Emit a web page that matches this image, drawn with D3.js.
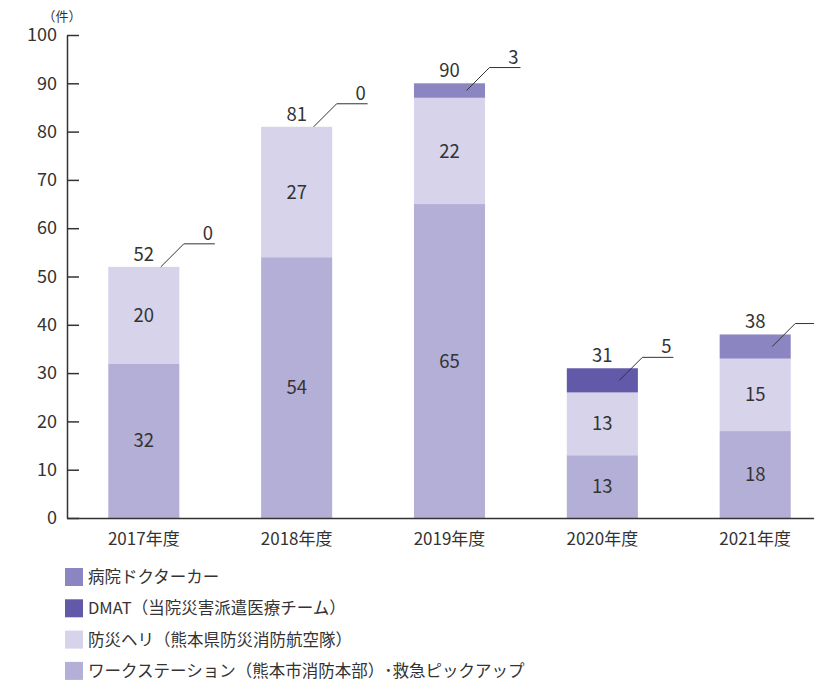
<!DOCTYPE html>
<html>
<head>
<meta charset="utf-8">
<script src="https://cdn.jsdelivr.net/npm/d3@7"></script>
<style>
  body { margin: 0; background: #fff; }
  svg text { font-family: "Noto Sans CJK JP", "Noto Sans", sans-serif; fill: #333; }
</style>
</head>
<body>
<svg id="chart" width="814" height="681"></svg>
<script>
const years = ["2017年度", "2018年度", "2019年度", "2020年度", "2021年度"];
const workstation = [32, 54, 65, 13, 18];
const heli = [20, 27, 22, 13, 15];
const dmat = [0, 0, 0, 5, 0];
const doctorCar = [0, 0, 3, 0, 5];
const yTicks = [0, 10, 20, 30, 40, 50, 60, 70, 80, 90, 100];

const seriesKeys = ["ws", "heli", "dmat", "car"];
const seriesNames = {
  car: "病院ドクターカー",
  dmat: "DMAT（当院災害派遣医療チーム）",
  heli: "防災ヘリ（熊本県防災消防航空隊）",
  ws: "ワークステーション（熊本市消防本部）･救急ピックアップ"
};
const colors = {ws: "#b4afd6", heli: "#d6d3ea", dmat: "#6259a8", car: "#8b85c2"};

const width = 814, height = 681;
const svg = d3.select("#chart");

const x0 = 67, yBase = 518, yTop = 35;

const rows = years.map((yr, i) => ({
  year: yr, ws: workstation[i], heli: heli[i], dmat: dmat[i], car: doctorCar[i]
}));
const stacked = d3.stack().keys(seriesKeys)(rows);

const x = d3.scaleBand()
    .domain(years)
    .range([x0, x0 + 153 * 5])
    .paddingInner(0.535)
    .paddingOuter(0.27);

const y = d3.scaleLinear().domain([0, 100]).range([yBase, yTop]);

// bars
svg.append("g").selectAll("g")
  .data(stacked)
  .join("g")
    .attr("fill", s => colors[s.key])
  .selectAll("rect")
  .data(s => s)
  .join("rect")
    .attr("x", d => x(d.data.year))
    .attr("y", d => y(d[1]))
    .attr("width", x.bandwidth())
    .attr("height", d => y(d[0]) - y(d[1]));

// segment labels for workstation and heli
["ws", "heli"].forEach(k => {
  const s = stacked.find(t => t.key === k);
  svg.append("g").selectAll("text")
    .data(s)
    .join("text")
      .attr("x", d => x(d.data.year) + x.bandwidth() / 2)
      .attr("y", d => (y(d[0]) + y(d[1])) / 2)
      .attr("dy", "0.36em")
      .attr("text-anchor", "middle")
      .style("font-size", "18.5px")
      .text(d => d.data[k]);
});

// totals + callouts
rows.forEach((r, i) => {
  const c = x(r.year) + x.bandwidth() / 2;
  const total = r.ws + r.heli + r.dmat + r.car;
  const low = r.ws + r.heli;
  svg.append("text")
    .attr("x", c)
    .attr("y", y(total) - 6)
    .attr("text-anchor", "middle")
    .style("font-size", "18.5px")
    .text(total);

  const sy = (y(low) + y(total)) / 2;
  const sx = c + 17;
  const ey = sy - 23;
  svg.append("path")
    .attr("d", `M${sx},${sy}L${c + 40},${ey}L${c + 71},${ey}`)
    .attr("fill", "none")
    .attr("stroke", "#333")
    .attr("stroke-width", 1);
  svg.append("text")
    .attr("x", c + 64)
    .attr("y", ey - 4)
    .attr("text-anchor", "middle")
    .style("font-size", "18.5px")
    .text(r.dmat + r.car);
});

// y axis
const yAxis = svg.append("g")
    .attr("transform", `translate(${x0},0)`)
    .call(d3.axisLeft(y).tickValues(yTicks).tickSizeInner(-12).tickSizeOuter(0).tickPadding(10));
yAxis.select(".domain").attr("stroke", "#333").attr("stroke-width", 1.5);
yAxis.selectAll(".tick line").attr("stroke", "#333").attr("stroke-width", 1.5);
yAxis.selectAll(".tick text").style("font-size", "18px").attr("fill", "#333");

svg.append("text")
  .attr("x", 62)
  .attr("y", 21)
  .attr("text-anchor", "middle")
  .style("font-size", "13px")
  .attr("fill", "#555")
  .text("（件）");

// x axis
const xAxis = svg.append("g")
    .attr("transform", `translate(0,${yBase})`)
    .call(d3.axisBottom(x).tickSize(0).tickPadding(15));
xAxis.select(".domain").attr("stroke", "#333").attr("stroke-width", 1.5);
xAxis.selectAll(".tick text").style("font-size", "17px").attr("fill", "#333");

// legend
const legendKeys = ["car", "dmat", "heli", "ws"];
const legend = svg.append("g").selectAll("g")
  .data(legendKeys)
  .join("g")
    .attr("transform", (k, i) => `translate(65,${577 + i * 31.3})`);
legend.append("rect")
  .attr("x", 0).attr("y", -9)
  .attr("width", 18).attr("height", 18)
  .attr("fill", k => colors[k]);
legend.append("text")
  .attr("x", 23)
  .attr("dy", "0.36em")
  .style("font-size", "16.5px")
  .attr("fill", "#444")
  .text(k => seriesNames[k]);
</script>
</body>
</html>
